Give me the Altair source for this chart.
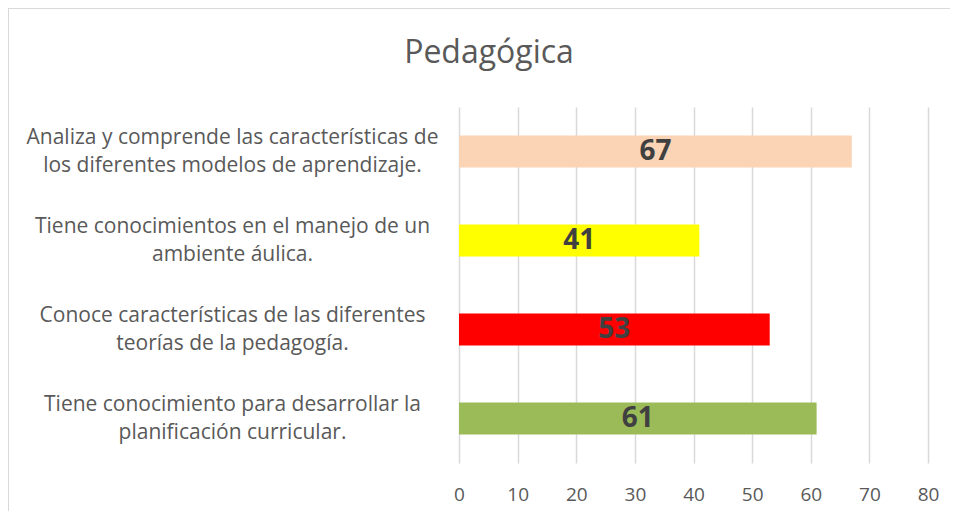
import altair as alt
import pandas as pd

categories = [
    "Analiza y comprende las características de|los diferentes modelos de aprendizaje.",
    "Tiene conocimientos en el manejo de un|ambiente áulica.",
    "Conoce características de las diferentes|teorías de la pedagogía.",
    "Tiene conocimiento para desarrollar la|planificación curricular.",
]
values = [67, 41, 53, 61]
colors = ["#FAD4B4", "#FFFF00", "#FF0000", "#9BBB59"]
x_ticks = [0, 10, 20, 30, 40, 50, 60, 70, 80]
title_text = "Pedagógica"

df = pd.DataFrame({"cat": categories, "val": values, "color": colors})
df["half"] = df["val"] / 2

FONT = "Open Sans"
GRAY = "#595959"

y_axis = alt.Axis(
    title=None,
    labelExpr="split(datum.label, '|')",
    labelAlign="center",
    labelBaseline="middle",
    labelPadding=227,
    labelLineHeight=28,
    labelOffset=-14,
    labelLimit=600,
    labelFontSize=21,
    labelFont=FONT,
    labelColor=GRAY,
    domain=False,
    ticks=False,
    grid=False,
)

x_axis = alt.Axis(
    title=None,
    values=x_ticks,
    domain=False,
    ticks=False,
    grid=True,
    gridColor="#D9D9D9",
    gridWidth=1.5,
    labelFontSize=19,
    labelFont=FONT,
    labelColor=GRAY,
    labelPadding=22,
    labelFlush=False,
)

x_scale = alt.Scale(domain=[0, 80], nice=False)
y_scale = alt.Scale(paddingInner=0.64, paddingOuter=0.32)

bars = alt.Chart(df).mark_bar().encode(
    x=alt.X("val:Q", scale=x_scale, axis=x_axis),
    y=alt.Y("cat:N", sort=categories, scale=y_scale, axis=y_axis),
    color=alt.Color("color:N", scale=None),
)

labels = alt.Chart(df).mark_text(
    font=FONT, fontSize=28, fontWeight="bold", color="#404040", baseline="middle"
).encode(
    x=alt.X("half:Q", scale=x_scale, axis=x_axis),
    y=alt.Y("cat:N", sort=categories, scale=y_scale, axis=y_axis),
    text="val:Q",
)

frame = alt.Data(values=[{"a": 1}])
border_left = alt.Chart(frame).mark_rule(color="#D9D9D9", strokeWidth=1).encode(
    x=alt.value(-450.5),
    y=alt.value(-99),
    y2=alt.value(600),
)
border_top = alt.Chart(frame).mark_rule(color="#D9D9D9", strokeWidth=1).encode(
    x=alt.value(-451),
    x2=alt.value(700),
    y=alt.value(-98.5),
)

title = alt.Chart(alt.Data(values=[{"t": title_text}])).mark_text(
    font=FONT, fontSize=32, color=GRAY, align="center", baseline="alphabetic"
).encode(
    x=alt.value(30),
    y=alt.value(-44),
    text="t:N",
)

chart = alt.layer(border_left, border_top, bars, labels, title).properties(
    width=469,
    height=356,
    padding={"left": 451, "top": 99, "right": 22, "bottom": 48},
    autosize=alt.AutoSizeParams(type="none"),
    background="white",
).configure_view(strokeWidth=0, stroke="transparent")

chart.save("out.html", embed_options={"renderer": "svg", "actions": False})
